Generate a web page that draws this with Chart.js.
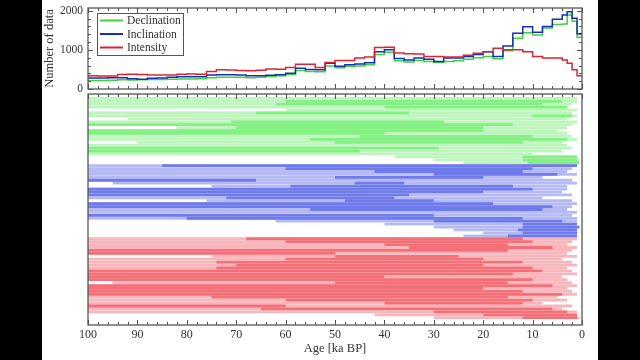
<!DOCTYPE html>
<html>
<head>
<meta charset="utf-8">
<script src="https://cdn.jsdelivr.net/npm/chart.js@4"></script>
<style>
  html, body { margin: 0; background: #000; width: 640px; height: 360px; overflow: hidden; }
  #panel { position: absolute; left: 42px; top: 0; width: 556px; height: 360px; background: #fff; }
  #top { position: absolute; left: 0; top: 0; }
  #bottom { position: absolute; left: 0; top: 92px; }
</style>
</head>
<body>
<div id="panel">
  <canvas id="top" width="556" height="94"></canvas>
  <canvas id="bottom" width="556" height="268"></canvas>
</div>
<script>
// histogram bins (start age of each bin, ka BP); last bin closes at 0
const binStart = [100, 98, 96, 94, 92, 90, 88, 86, 84, 82, 80, 78, 76, 74, 72, 70, 68, 66, 64, 62,
  60, 58, 56, 54, 52, 50, 48, 46, 44, 42, 40, 38, 36, 34, 32, 30, 28, 26, 24, 22,
  20, 18, 16, 14, 12, 10, 8, 6, 4, 3, 2, 1]
const binEnd = 0

const declCount = [220, 220, 225, 235, 230, 235, 240, 245, 250, 255, 255, 260, 290, 300, 300, 300, 290, 300, 320, 340,
  370, 470, 450, 440, 590, 540, 580, 590, 620, 880, 940, 720, 690, 730, 700, 680, 700, 720, 760, 800,
  830, 770, 980, 1300, 1440, 1380, 1560, 1650, 1660, 1890, 1730, 1320]
const inclCount = [280, 280, 285, 290, 260, 250, 275, 280, 300, 310, 310, 310, 360, 365, 365, 355, 340, 340, 350, 365,
  400, 530, 500, 490, 660, 580, 620, 640, 670, 950, 1000, 780, 740, 790, 760, 700, 790, 790, 830, 880,
  950, 830, 1100, 1425, 1590, 1450, 1600, 1780, 1890, 1975, 1810, 1410]
const intCount = [340, 335, 335, 370, 375, 370, 360, 355, 360, 380, 385, 375, 450, 490, 485, 470, 465, 480, 510, 505,
  550, 630, 630, 550, 680, 730, 730, 790, 815, 1060, 1070, 920, 900, 895, 830, 830, 820, 815, 860, 915,
  950, 1040, 1000, 1000, 950, 830, 790, 790, 740, 660, 490, 340]

const countTicks = [0, 1000, 2000]

// record age spans [older, younger]; "Core" = overlapping (darker) part of the row
const declSpan = [[100, 1], [100, 1], [100, 2], [100, 3], [60, 1], [100, 2], [100, 1], [92, 3], [100, 1], [100, 2],
  [82, 3], [100, 5], [100, 3], [100, 2], [100, 1], [90, 4], [100, 3], [100, 2], [100, 4], [100, 10],
  [38, 1], [30, 0.5], [24, 1]]
const declCore = [null, [60, 4], [62, 8], [40, 3], null, [66, 35], [10, 2], null, [71, 28], [100, 14],
  [70, 20], [100, 20], [100, 40], [45, 10], [55, 3], [50, 12], null, [100, 29], [100, 45], null,
  [12, 1], [12, 1], [11, 0.5]]

const inclSpan = [[100, 1], [100, 2], [100, 3], [100, 1], [100, 8], [100, 2], [95, 1], [75, 3], [100, 3], [100, 4],
  [100, 2], [100, 8], [76, 2], [100, 1], [100, 2], [100, 3], [100, 1], [100, 2], [100, 1], [62, 1],
  [40, 1], [30, 1], [26, 2], [20, 1], [24, 1]]
const inclCore = [[85, 1], [60, 10], [42, 12], [30, 5], [50, 20], [100, 66], [46, 36], [59, 14], [100, 10], [100, 20],
  [100, 35], [72, 38], [48, 30], [100, 18], [100, 6], [55, 8], null, [100, 30], [80, 12], [30, 4],
  [12, 1], [12, 0.5], [13, 1], [12, 1], [15, 1]]

const intSpan = [[100, 1], [100, 2], [100, 3], [100, 1], [100, 2], [100, 3], [75, 1], [100, 4], [100, 2], [100, 1],
  [100, 3], [100, 2], [100, 1], [100, 4], [100, 3], [95, 2], [100, 1], [100, 3], [100, 2], [100, 1],
  [100, 5], [100, 3], [100, 8], [100, 2], [100, 4], [100, 1], [42, 1], [30, 0.5]]
const intCore = [[68, 12], [60, 10], [40, 15], [35, 6], [100, 15], [100, 50], [50, 25], [60, 20], [74, 12], [70, 20],
  [74, 10], [100, 8], [100, 14], [100, 40], [100, 10], [50, 15], [100, 6], [100, 20], [100, 12], [100, 4],
  [75, 15], [60, 10], [40, 12], [100, 60], [65, 6], [30, 3], [20, 1], [12, 1]]

Chart.defaults.font.family = "'Liberation Serif', 'DejaVu Serif', serif"
Chart.defaults.color = '#333'

// frame with inward tick marks on all sides
const frameTicks = {
  id: 'frame',
  afterDatasetsDraw(chart, args, opts) {
    const { ctx, chartArea: a, scales } = chart
    ctx.save()
    ctx.strokeStyle = '#555'
    ctx.lineWidth = 1
    ctx.beginPath()
    for (let v = 0; v <= 100; v += 2) {
      const px = Math.round(scales.x.getPixelForValue(v)) + 0.5
      const len = v % 10 === 0 ? 5 : 3
      ctx.moveTo(px, a.top); ctx.lineTo(px, a.top + len)
      ctx.moveTo(px, a.bottom); ctx.lineTo(px, a.bottom - len)
    }
    if (opts.yStep) {
      for (let v = 0; v <= opts.yTop; v += opts.yStep) {
        const py = Math.round(scales.y.getPixelForValue(v)) + 0.5
        const len = v % 1000 === 0 ? 5 : 3
        ctx.moveTo(a.left, py); ctx.lineTo(a.left + len, py)
        ctx.moveTo(a.right, py); ctx.lineTo(a.right - len, py)
      }
    }
    ctx.stroke()
    ctx.lineWidth = 1.3
    ctx.strokeRect(a.left, a.top, a.right - a.left, a.bottom - a.top)
    ctx.restore()
  }
}

// boxed legend in the upper-left corner of the histogram
const boxLegend = {
  id: 'boxLegend',
  afterDatasetsDraw(chart) {
    const { ctx, chartArea: a } = chart
    const x0 = a.left + 9, y0 = a.top + 5
    ctx.save()
    ctx.fillStyle = '#fff'
    ctx.fillRect(x0, y0, 86, 42)
    ctx.strokeStyle = '#555'
    ctx.lineWidth = 1
    ctx.strokeRect(x0 + 0.5, y0 + 0.5, 86, 42)
    ctx.font = "11.5px 'Liberation Serif', serif"
    ctx.textBaseline = 'middle'
    chart.data.datasets.forEach((ds, i) => {
      const y = y0 + 7.5 + i * 13.5
      ctx.strokeStyle = ds.borderColor
      ctx.lineWidth = 2
      ctx.beginPath()
      ctx.moveTo(x0 + 3, y); ctx.lineTo(x0 + 26, y)
      ctx.stroke()
      ctx.fillStyle = '#333'
      ctx.fillText(ds.label, x0 + 30, y + 0.5)
    })
    ctx.restore()
  }
}

function steps(vals) {
  const pts = binStart.map((age, i) => ({ x: age, y: vals[i] }))
  pts.push({ x: binEnd, y: vals[vals.length - 1] })
  return pts
}

new Chart(document.getElementById('top'), {
  type: 'line',
  data: {
    datasets: [
      { label: 'Declination', data: steps(declCount), borderColor: '#3ed23e', order: 2 },
      { label: 'Inclination', data: steps(inclCount), borderColor: '#1530b0', order: 1 },
      { label: 'Intensity', data: steps(intCount), borderColor: '#dc2430', order: 0 },
    ],
  },
  options: {
    responsive: false,
    animation: false,
    layout: { padding: { top: 8, right: 16, bottom: 5, left: 0 } },
    elements: {
      line: { borderWidth: 1.5, stepped: 'before', tension: 0 },
      point: { radius: 0 },
    },
    plugins: {
      legend: { display: false },
      tooltip: { enabled: false },
      frame: { yStep: 200, yTop: 2000 },
    },
    scales: {
      x: { type: 'linear', min: 0, max: 100, reverse: true, display: false },
      y: {
        min: 0,
        max: 2070,
        afterFit: s => { s.width = 46; s.paddingTop = 0; s.paddingBottom = 0 },
        afterBuildTicks: s => { s.ticks = countTicks.map(v => ({ value: v })) },
        grid: { display: false, drawTicks: false },
        border: { display: false },
        ticks: { padding: 5, font: { size: 11.5 }, callback: v => String(v) },
        title: { display: true, text: 'Number of data', padding: 0, font: { size: 12.5 } },
      },
    },
  },
  plugins: [frameTicks, boxLegend],
})

// rows of the record chart: one blank row on top, two at the bottom
const rowCount = 1 + declSpan.length + inclSpan.length + intSpan.length + 2
const rowLabels = Array.from({ length: rowCount }, (_, i) => String(i))

function place(list, start) {
  const out = new Array(rowCount).fill(null)
  list.forEach((r, i) => { out[start + i] = r })
  return out
}

const declStart = 1
const inclStart = declStart + declSpan.length
const intStart = inclStart + inclSpan.length

new Chart(document.getElementById('bottom'), {
  type: 'bar',
  data: {
    labels: rowLabels,
    datasets: [
      { label: 'Declination core', data: place(declCore, declStart), backgroundColor: '#82f182', order: 0 },
      { label: 'Declination', data: place(declSpan, declStart), backgroundColor: '#bdf5bd', order: 1 },
      { label: 'Inclination core', data: place(inclCore, inclStart), backgroundColor: '#6f7aeb', order: 0 },
      { label: 'Inclination', data: place(inclSpan, inclStart), backgroundColor: '#b5baf2', order: 1 },
      { label: 'Intensity core', data: place(intCore, intStart), backgroundColor: '#f56f79', order: 0 },
      { label: 'Intensity', data: place(intSpan, intStart), backgroundColor: '#f8b6bb', order: 1 },
    ],
  },
  options: {
    indexAxis: 'y',
    responsive: false,
    animation: false,
    layout: { padding: { top: 2, right: 16, left: 46, bottom: 0 } },
    datasets: {
      bar: { grouped: false, barPercentage: 0.95, categoryPercentage: 1, borderWidth: 0 },
    },
    plugins: {
      legend: { display: false },
      tooltip: { enabled: false },
      frame: {},
    },
    scales: {
      x: {
        type: 'linear',
        min: 0,
        max: 100,
        reverse: true,
        afterFit: s => { s.height = 35 },
        grid: { display: false, drawTicks: false },
        border: { display: false },
        ticks: { stepSize: 10, padding: 3, maxRotation: 0, font: { size: 12 } },
        title: { display: true, text: 'Age [ka BP]', padding: { top: 0, bottom: 4 }, font: { size: 12.5 } },
      },
      y: { display: false },
    },
  },
  plugins: [frameTicks],
})
</script>
</body>
</html>
